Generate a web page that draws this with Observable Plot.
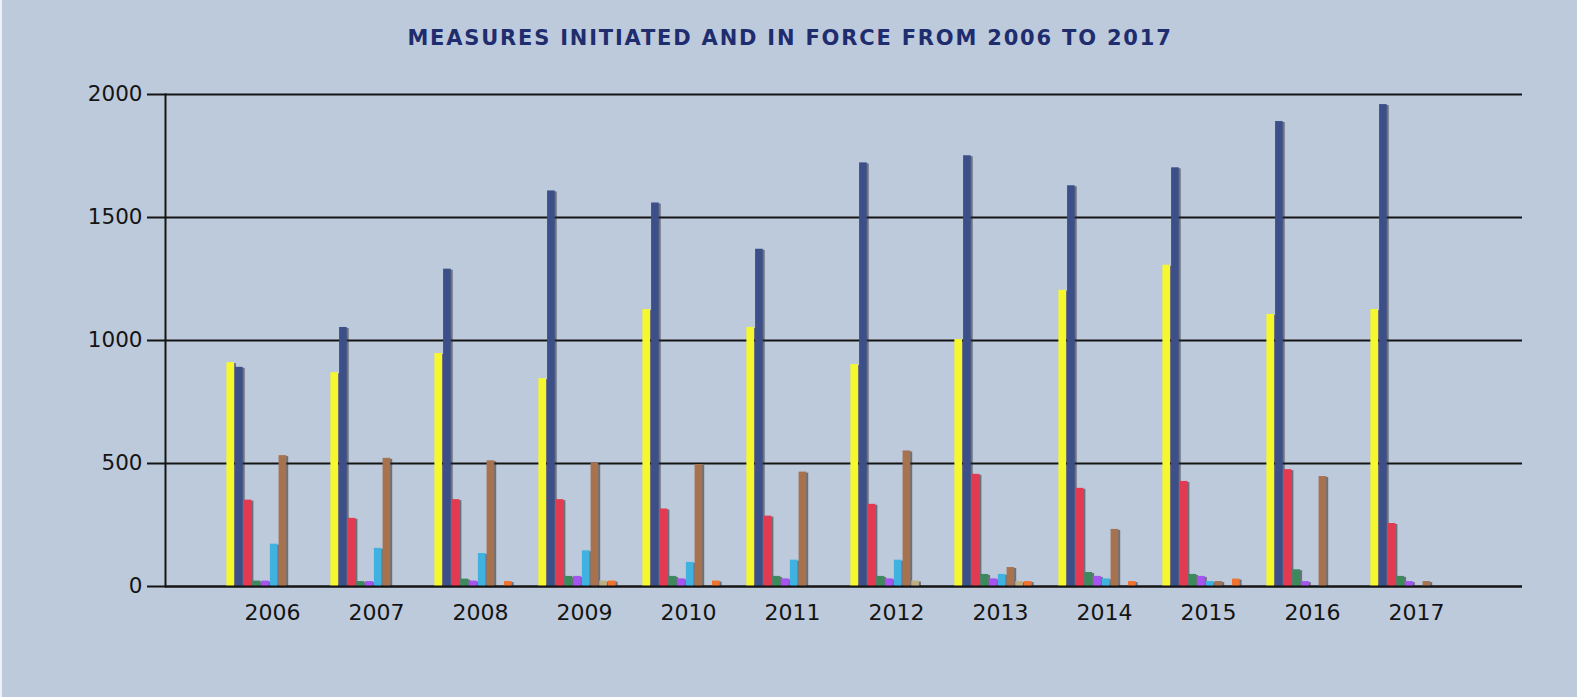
<!DOCTYPE html>
<html>
<head>
<meta charset="utf-8">
<script src="https://cdn.jsdelivr.net/npm/d3@7"></script>
<script src="https://cdn.jsdelivr.net/npm/@observablehq/plot@0.6"></script>
<style>
  html, body { margin: 0; padding: 0; background: #bccadc; width: 1577px; height: 697px; overflow: hidden; }
  #wrap { position: relative; width: 1577px; height: 697px; }
  #title { height: 34px; padding-top: 26px; line-height: 24px; text-align: center; font-family: "DejaVu Sans", Verdana, sans-serif; font-weight: bold; font-size: 21px; letter-spacing: 1.8px; color: #1f2d6e; padding-left: 3px; }
  #edge { position: absolute; left: 0; top: 0; width: 2px; height: 697px; background: #eef2f7; }
</style>
</head>
<body>
<div id="wrap">
  <div id="edge"></div>
  <div id="title">MEASURES INITIATED AND IN FORCE FROM 2006 TO 2017</div>
  <div id="chart"></div>
</div>
<script>
const years = ["2006","2007","2008","2009","2010","2011","2012","2013","2014","2015","2016","2017"];
const yTicks = [0, 500, 1000, 1500, 2000];

// series values, one array per bar colour (left to right inside each year)
const yellowSeries = [910, 869, 947, 845, 1126, 1053, 902, 1004, 1204, 1306, 1106, 1126];
const navySeries   = [891, 1053, 1290, 1608, 1559, 1371, 1722, 1751, 1629, 1702, 1890, 1959];
const redSeries    = [351, 277, 353, 353, 315, 286, 334, 456, 399, 427, 475, 256];
const greenSeries  = [22, 20, 30, 41, 41, 41, 41, 49, 57, 49, 68, 41];
const purpleSeries = [22, 20, 22, 41, 31, 31, 31, 31, 41, 41, 20, 20];
const cyanSeries   = [172, 155, 134, 145, 98, 107, 107, 49, 31, 20, 0, 0];
const brownSeries  = [532, 521, 511, 502, 496, 465, 551, 77, 232, 20, 447, 20];
const tanSeries    = [0, 0, 0, 22, 0, 0, 22, 20, 0, 0, 0, 0];
const orangeSeries = [0, 0, 20, 22, 22, 0, 0, 20, 20, 30, 0, 0];

const seriesList = [
  {values: yellowSeries, color: "#f7f72e"},
  {values: navySeries,   color: "#3d4f88"},
  {values: redSeries,    color: "#e23a50"},
  {values: greenSeries,  color: "#3b8a5c"},
  {values: purpleSeries, color: "#a554f2"},
  {values: cyanSeries,   color: "#3fb2df"},
  {values: brownSeries,  color: "#a8724f"},
  {values: tanSeries,    color: "#bfae82"},
  {values: orangeSeries, color: "#f0732f"}
];

const slot = 8.7;      // spacing between bars in a group
const barW = 8;        // bar width
const groupShift = -7;
const W = 1577, H = 637;
const mL = 165, mR = 55;
const step = (W - mL - mR) / (years.length + 1);
const inset = (step - barW) / 2;

const marks = [
  Plot.gridY(yTicks, {stroke: "#141414", strokeOpacity: 1, strokeWidth: 2}),
  Plot.axisY({ticks: yTicks, tickFormat: d => String(d), tickSize: 18, tickPadding: 5, stroke: "#141414", strokeWidth: 2, fill: "#141414"}),
  Plot.frame({anchor: "left", stroke: "#141414", strokeWidth: 2})
];

seriesList.forEach((s, i) => {
  const data = years.map((y, k) => ({year: y, value: s.values[k]})).filter(d => d.value > 0);
  const dx = (i - 4) * slot + groupShift;
  marks.push(Plot.barY(data, {x: "year", y: "value", insetLeft: inset, insetRight: inset, dx: dx + 2, dy: 1, fill: "#2a2a2a", fillOpacity: 0.55}));
  marks.push(Plot.barY(data, {x: "year", y: "value", insetLeft: inset, insetRight: inset, dx: dx, fill: s.color}));
});

marks.push(Plot.ruleY([0], {stroke: "#141414", strokeWidth: 2}));
marks.push(Plot.axisX({tickSize: 0, tickPadding: 18, fill: "#141414", fontSize: "22px"}));

const chart = Plot.plot({
  width: W,
  height: H,
  marginLeft: mL,
  marginRight: mR,
  marginTop: 34,
  marginBottom: 111,
  style: {background: "transparent", fontFamily: "DejaVu Sans, Verdana, sans-serif", fontSize: "21.5px", color: "#141414", overflow: "visible"},
  x: {type: "band", domain: years, paddingInner: 0, paddingOuter: 0.5, label: null},
  y: {domain: [0, 2000], label: null},
  marks
});
document.getElementById("chart").appendChild(chart);
</script>
</body>
</html>
